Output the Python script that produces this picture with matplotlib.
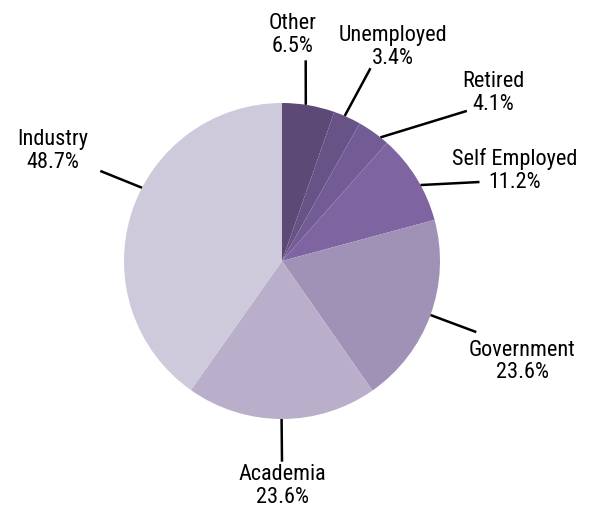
import numpy as np
import matplotlib
matplotlib.use('Agg')
import matplotlib.pyplot as plt
from matplotlib import font_manager

# Data: values as printed on the labels (they sum to more than 100, pie normalises)
categories = ['Other', 'Unemployed', 'Retired', 'Self Employed', 'Government', 'Academia', 'Industry']
values = [6.5, 3.4, 4.1, 11.2, 23.6, 23.6, 48.7]
colors = ['#5d4976', '#685386', '#735c96', '#7f64a2', '#a091b7', '#b9afcb', '#cfc9dc']

# Layout for the labels (data units, pie radius = 1)
angle_tweak = [-1, -1, 3, 3, 0, 0, 10]          # degrees, shift of leader start
line_ends = [(0.15, 1.27), (0.56, 1.22), (1.17, 0.95), (1.25, 0.50),
             (1.23, -0.45), (0.0, -1.27), (-1.15, 0.57)]
text_pos = [(0.07, 1.435), (0.70, 1.36), (1.34, 1.07), (1.47, 0.58),
            (1.52, -0.63), (0.0, -1.42), (-1.45, 0.70)]

# pick a condensed sans if one is around
installed = {f.name for f in font_manager.fontManager.ttflist}
wanted = ['Nimbus Sans Narrow', 'Liberation Sans Narrow', 'Roboto Condensed',
          'Archivo Narrow', 'PT Sans Narrow', 'Fira Sans Condensed', 'IBM Plex Sans Condensed']
narrow = [n for n in wanted if n in installed]
plt.rcParams['font.family'] = narrow[:1] + ['DejaVu Sans']
font_size = 16 if narrow else 15

W, H = 593, 510
cx, cy, R = 282, 262, 158
fig = plt.figure(figsize=(W / 100, H / 100), dpi=100)
ax = fig.add_axes([0, 0, 1, 1])

wedges, _ = ax.pie(values, colors=colors, startangle=90, counterclock=False,
                   normalize=True, radius=1.0, wedgeprops=dict(linewidth=0))
ax.set_xlim(-cx / R, (W - cx) / R)
ax.set_ylim(-(H - cy) / R, cy / R)
ax.set_aspect('equal')
ax.axis('off')

for i, w in enumerate(wedges):
    mid = (w.theta1 + w.theta2) / 2.0 - angle_tweak[i]
    sx, sy = np.cos(np.radians(mid)), np.sin(np.radians(mid))
    ex, ey = line_ends[i]
    ax.plot([sx, ex], [sy, ey], color='black', lw=1.8, solid_capstyle='butt')
    tx, ty = text_pos[i]
    ax.text(tx, ty, f'{categories[i]}\n{values[i]}%', ha='center', va='center',
            fontsize=font_size, linespacing=1.12, color='black')

fig.savefig('out.png', dpi=100)
